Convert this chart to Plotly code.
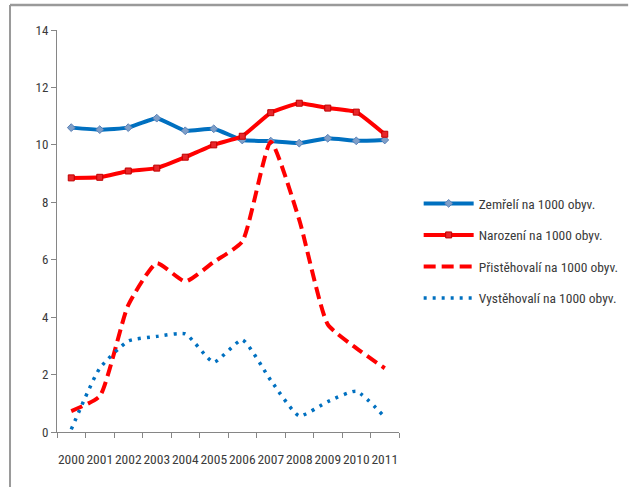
import plotly.graph_objects as go

years = ["2000", "2001", "2002", "2003", "2004", "2005",
         "2006", "2007", "2008", "2009", "2010", "2011"]

zemreli = [10.60, 10.53, 10.60, 10.93, 10.49, 10.56,
           10.17, 10.13, 10.06, 10.23, 10.14, 10.17]
narozeni = [8.85, 8.87, 9.09, 9.19, 9.57, 10.00,
            10.30, 11.12, 11.45, 11.28, 11.14, 10.37]
pristehovali = [0.73, 1.25, 4.42, 5.88, 5.24, 5.92,
                6.63, 10.11, 7.39, 3.75, 2.92, 2.22]
vystehovali = [0.09, 2.22, 3.17, 3.33, 3.42, 2.43,
               3.21, 1.80, 0.56, 1.06, 1.42, 0.52]

series_names = [
    "Zemřelí na 1000 obyv.",
    "Narození na 1000 obyv.",
    "Přistěhovalí na 1000 obyv.",
    "Vystěhovalí na 1000 obyv.",
]

y_ticks = [0, 2, 4, 6, 8, 10, 12, 14]

BLUE = "#0070C0"
RED = "#FF0000"
TEXT = "#3A3A3A"
FONT = "Liberation Sans Narrow, Arial Narrow, Roboto Condensed, Liberation Sans, sans-serif"

fig = go.Figure()

fig.add_trace(go.Scatter(
    x=years, y=zemreli, name=series_names[0], legendgroup="a",
    mode="lines+markers",
    line=dict(color=BLUE, width=4, shape="spline", smoothing=0.4),
    marker=dict(symbol="diamond", size=6, color="#7F9FC8",
                line=dict(color="#5B82B8", width=1)),
))
fig.add_trace(go.Scatter(
    x=years, y=narozeni, name=series_names[1], legendgroup="b",
    mode="lines+markers",
    line=dict(color=RED, width=4, shape="spline", smoothing=0.4),
    marker=dict(symbol="square", size=6, color="#E8262A",
                line=dict(color="#C00000", width=1)),
))
fig.add_trace(go.Scatter(
    x=years, y=pristehovali, name=series_names[2], legendgroup="c",
    mode="lines",
    line=dict(color=RED, width=4, dash="12px,6px", shape="spline", smoothing=0.5),
))
fig.add_trace(go.Scatter(
    x=years, y=vystehovali, name=series_names[3], legendgroup="d",
    mode="lines",
    line=dict(color=BLUE, width=3.5, dash="3px,6px", shape="spline", smoothing=0.5),
))

# outer frame (left and top edges of the chart border)
frame_color = "#9A9A9A"
fig.add_shape(type="line", xref="paper", yref="paper",
              x0=-0.1374, x1=1.67, y0=1.0622, y1=1.0622,
              line=dict(color=frame_color, width=2.5))
fig.add_shape(type="line", xref="paper", yref="paper",
              x0=-0.1374, x1=-0.1374, y0=1.0622, y1=-0.2,
              line=dict(color=frame_color, width=2))

fig.update_layout(
    width=629, height=487,
    margin=dict(l=57, r=230, t=30, b=55, autoexpand=False),
    paper_bgcolor="white", plot_bgcolor="white",
    font=dict(family=FONT, size=13, color=TEXT),
    showlegend=True,
    legend=dict(
        x=1.0575, y=0.45, xanchor="left", yanchor="middle",
        font=dict(family=FONT, size=13.5, color=TEXT),
        tracegroupgap=11, itemwidth=50,
        bgcolor="rgba(0,0,0,0)",
    ),
    xaxis=dict(
        type="category", showgrid=False, showline=True,
        linecolor="#868686", linewidth=1,
        ticks="outside", ticklen=5, tickcolor="#868686",
        tickson="boundaries", tickangle=0, ticklabelstandoff=15,
        tickfont=dict(family=FONT, size=13.5, color=TEXT),
        range=[-0.5, 11.5], fixedrange=True,
    ),
    yaxis=dict(
        range=[0, 14], tickvals=y_ticks, showgrid=False, zeroline=False,
        showline=True, linecolor="#868686", linewidth=1,
        ticks="outside", ticklen=5, tickcolor="#868686",
        tickfont=dict(family=FONT, size=13, color=TEXT),
    ),
)

fig.write_html("out.html")
